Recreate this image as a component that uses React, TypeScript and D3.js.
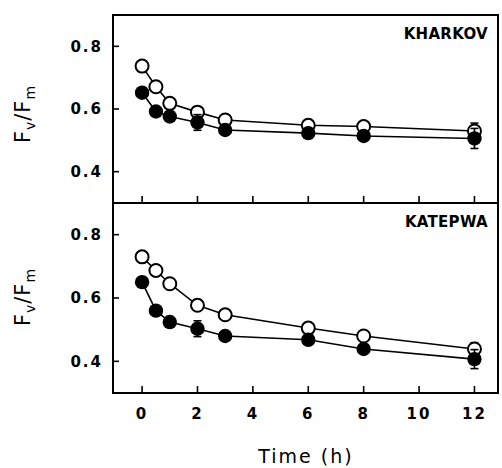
import React from "react";
import { scaleLinear, line } from "d3";

// sampling times (h)
const times = [0, 0.5, 1, 2, 3, 6, 8, 12];
const xTicks = [0, 2, 4, 6, 8, 10, 12];
const yTicks = [0.4, 0.6, 0.8];

// KHARKOV
const kharkovOpen = [0.737, 0.671, 0.618, 0.59, 0.565, 0.548, 0.544, 0.53];
const kharkovOpenErr = [0.01, 0.01, 0.01, 0.01, 0.01, 0.01, 0.01, 0.025];
const kharkovFilled = [0.652, 0.592, 0.576, 0.557, 0.533, 0.523, 0.514, 0.506];
const kharkovFilledErr = [0.01, 0.01, 0.01, 0.025, 0.01, 0.01, 0.01, 0.032];

// KATEPWA
const katepwaOpen = [0.73, 0.687, 0.645, 0.577, 0.547, 0.505, 0.48, 0.439];
const katepwaOpenErr = [0.01, 0.01, 0.01, 0.01, 0.01, 0.01, 0.01, 0.02];
const katepwaFilled = [0.65, 0.56, 0.524, 0.503, 0.48, 0.468, 0.439, 0.407];
const katepwaFilledErr = [0.01, 0.01, 0.01, 0.025, 0.01, 0.01, 0.01, 0.03];

const W = 502;
const H = 468;
const left = 113;
const right = 498;
const font = "'DejaVu Sans', 'Liberation Sans', sans-serif";

const x = scaleLinear().domain([-1.05, 12.85]).range([left, right]);

type PanelProps = {
  top: number;
  bottom: number;
  name: string;
  open: number[];
  openErr: number[];
  filled: number[];
  filledErr: number[];
  labelY: number;
};

function Series({ vals, errs, y, filledMark }: { vals: number[]; errs: number[]; y: any; filledMark: boolean }) {
  const pts = times.map((t, i) => [x(t), y(vals[i])] as [number, number]);
  const path = line()(pts) || "";
  return (
    <g>
      <path d={path} fill="none" stroke="#000" strokeWidth={1.6} />
      {times.map((t, i) => {
        const cx = x(t);
        const y1 = y(vals[i] + errs[i]);
        const y2 = y(vals[i] - errs[i]);
        return (
          <g key={"e" + i} stroke="#000" strokeWidth={1.6}>
            <line x1={cx} x2={cx} y1={y1} y2={y2} />
            <line x1={cx - 4} x2={cx + 4} y1={y1} y2={y1} />
            <line x1={cx - 4} x2={cx + 4} y1={y2} y2={y2} />
          </g>
        );
      })}
      {pts.map((p, i) => (
        <circle
          key={i}
          cx={p[0]}
          cy={p[1]}
          r={filledMark ? 7.2 : 6.5}
          fill={filledMark ? "#000" : "#fff"}
          stroke="#000"
          strokeWidth={filledMark ? 0 : 2}
        />
      ))}
    </g>
  );
}

function Panel({ top, bottom, name, open, openErr, filled, filledErr, labelY }: PanelProps) {
  const y = scaleLinear().domain([0.3, 0.9]).range([bottom, top]);
  return (
    <g>
      {/* frame */}
      <rect x={left} y={top} width={right - left} height={bottom - top} fill="none" stroke="#000" strokeWidth={2} />
      {yTicks.map((v) => (
        <g key={v}>
          <line x1={left} x2={left + 6} y1={y(v)} y2={y(v)} stroke="#000" strokeWidth={1.6} />
          <text
            x={left - 10}
            y={y(v)}
            dy="0.36em"
            textAnchor="end"
            fontSize={15}
            letterSpacing={2}
            fontFamily={font}
            fontWeight="bold"
          >
            {v.toFixed(1)}
          </text>
        </g>
      ))}
      {xTicks.map((t) => (
        <line key={t} x1={x(t)} x2={x(t)} y1={bottom} y2={bottom - 7} stroke="#000" strokeWidth={1.6} />
      ))}
      <text x={488} y={top + 24} textAnchor="end" fontSize={15} fontFamily={font} fontWeight="bold" letterSpacing={0.3}>
        {name}
      </text>
      <Series vals={open} errs={openErr} y={y} filledMark={false} />
      <Series vals={filled} errs={filledErr} y={y} filledMark={true} />
      <text
        transform={`translate(30,${labelY}) rotate(-90)`}
        textAnchor="middle"
        fontSize={21}
        fontFamily={font}
        letterSpacing={1}
      >
        F<tspan fontSize={14} dy={5}>v</tspan>
        <tspan dy={-5}>/F</tspan>
        <tspan fontSize={14} dy={5}>m</tspan>
      </text>
    </g>
  );
}

export default function App() {
  return (
    <svg
      width={W}
      height={H}
      style={{ position: "absolute", left: 0, top: 0, background: "#fff" }}
    >
      <Panel
        top={15}
        bottom={203}
        name="KHARKOV"
        open={kharkovOpen}
        openErr={kharkovOpenErr}
        filled={kharkovFilled}
        filledErr={kharkovFilledErr}
        labelY={114}
      />
      <Panel
        top={203}
        bottom={393}
        name="KATEPWA"
        open={katepwaOpen}
        openErr={katepwaOpenErr}
        filled={katepwaFilled}
        filledErr={katepwaFilledErr}
        labelY={297}
      />
      {xTicks.map((t) => (
        <text
          key={t}
          x={x(t)}
          y={419}
          textAnchor="middle"
          fontSize={15}
          fontFamily={font}
          fontWeight="bold"
          letterSpacing={2}
        >
          {t}
        </text>
      ))}
      <text x={306} y={463} textAnchor="middle" fontSize={19} fontFamily={font} letterSpacing={2}>
        Time (h)
      </text>
    </svg>
  );
}
